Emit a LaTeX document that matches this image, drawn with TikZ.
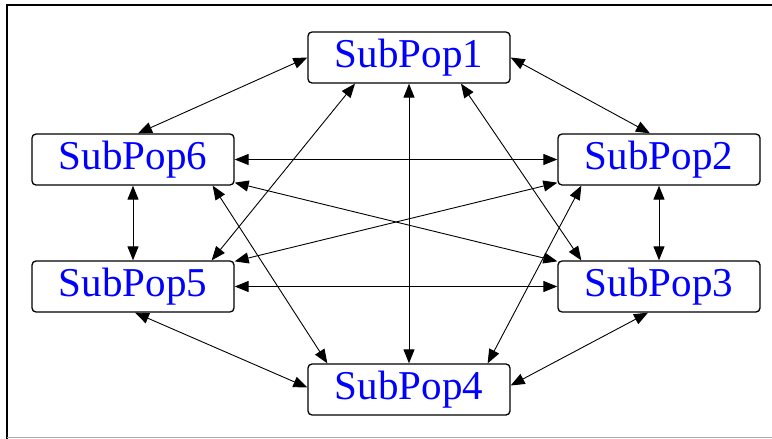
\documentclass[tikz,border=0pt]{standalone}
\usepackage{fontspec}
\setmainfont{Liberation Serif}
\usetikzlibrary{arrows.meta,positioning}
\definecolor{popblue}{HTML}{0000FF}
\definecolor{framegray}{HTML}{A8A8A8}

\begin{document}
\begin{tikzpicture}[x=1pt,y=-1pt,
  pop/.style={draw,rounded corners=4pt,line width=1.3pt,minimum width=202pt,
    minimum height=51pt,inner sep=0pt,font=\fontsize{41}{48}\selectfont,text=popblue},
  link/.style={line width=0.9pt,{Triangle[length=14pt,width=11pt]}-{Triangle[length=14pt,width=11pt]}}]
  \useasboundingbox (0,0) rectangle (772,439);

  % Window frame
  \draw[line width=1.5pt] (7,439) -- (7,5) -- (772,5);
  \draw[framegray,line width=1pt] (7,437) -- (772,437);

  % Subpopulations
  \node[pop] (sp1) at (409,57.5) {SubPop1};
  \node[pop] (sp6) at (133,159.5) {SubPop6};
  \node[pop] (sp2) at (659,159.5) {SubPop2};
  \node[pop] (sp5) at (133,286.5) {SubPop5};
  \node[pop] (sp3) at (659,286.5) {SubPop3};
  \node[pop] (sp4) at (409,389.5) {SubPop4};

  % Migration links (every pair)
  \draw[link] (sp1.west) -- ([xshift=5pt]sp6.north);
  \draw[link] (sp1.east) -- ([xshift=-9pt]sp2.north);
  \draw[link] ([xshift=-54pt]sp1.south) -- ([xshift=-23pt]sp5.north east);
  \draw[link] (sp1.south) -- (sp4.north);
  \draw[link] ([xshift=52pt]sp1.south) -- ([xshift=24pt]sp3.north west);

  \draw[link] (sp6.east) -- (sp2.west);
  \draw[link] ([yshift=3pt]sp6.south east) -- ([yshift=-1pt]sp3.north west);
  \draw[link] ([xshift=-22pt]sp6.south east) -- ([xshift=20pt]sp4.north west);
  \draw[link] (sp6.south) -- (sp5.north);

  \draw[link] ([yshift=3pt]sp2.south west) -- ([yshift=-1pt]sp5.north east);
  \draw[link] ([xshift=24pt]sp2.south west) -- ([xshift=-23pt]sp4.north east);
  \draw[link] (sp2.south) -- (sp3.north);

  \draw[link] (sp5.east) -- (sp3.west);
  \draw[link] ([xshift=2pt]sp5.south) -- ([yshift=2pt]sp4.west);

  \draw[link] ([xshift=-11pt]sp3.south) -- ([yshift=4pt]sp4.east);
\end{tikzpicture}
\end{document}
